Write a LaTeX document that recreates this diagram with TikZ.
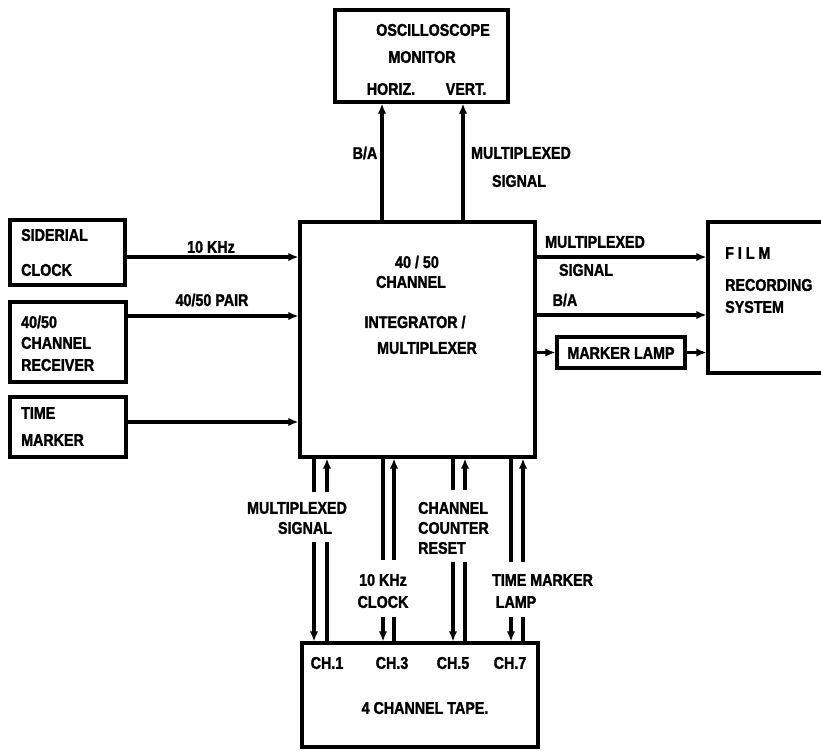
\documentclass[tikz,border=0pt]{standalone}
\usepackage{fontspec}
\setmainfont{Liberation Sans}[BoldFeatures={FakeBold=1.6,FakeStretch=0.84}]
\usetikzlibrary{arrows.meta}
\begin{document}
\begin{tikzpicture}[x=1pt,y=-1pt,
  box/.style={draw,line width=3.1pt,inner sep=0pt,rectangle},
  lbl/.style={inner sep=0pt,font=\fontsize{17}{19}\selectfont\bfseries},
  wire/.style={line width=3.1pt},
  arr/.style={line width=3.1pt,-{Latex[length=10pt,width=8.5pt]}}]
\useasboundingbox (0,0) rectangle (821,751);
% boxes
\node[box,minimum width=173pt,minimum height=92pt] (osc) at (421.5,56) {};
\node[box,minimum width=235pt,minimum height=235pt] (main) at (417.5,339.5) {};
\node[box,minimum width=115pt,minimum height=65pt] (sid) at (67.5,252.5) {};
\node[box,minimum width=116pt,minimum height=80pt] (rcv) at (68,342) {};
\node[box,minimum width=116pt,minimum height=60pt] (tm) at (68,427) {};
\node[box,minimum width=116pt,minimum height=151pt] (film) at (766,297.5) {};
\node[box,minimum width=128pt,minimum height=31pt] (lamp) at (621,352.5) {};
\node[box,minimum width=236pt,minimum height=104pt] (tape) at (420,695) {};
% box texts
\node[lbl] (o1) at (433,30) {OSCILLOSCOPE};
\node[lbl] (o2) at (422,57) {MONITOR};
\node[lbl] (o3) at (391,89) {HORIZ.};
\node[lbl] (o4) at (466,89) {VERT.};
\node[lbl,anchor=west] (s1) at (21,235) {SIDERIAL};
\node[lbl,anchor=west] (s2) at (21,270) {CLOCK};
\node[lbl,anchor=west] (r1) at (21,322) {40/50};
\node[lbl,anchor=west] (r2) at (21,343) {CHANNEL};
\node[lbl,anchor=west] (r3) at (21,365) {RECEIVER};
\node[lbl,anchor=west] (m1) at (21,413) {TIME};
\node[lbl,anchor=west] (m2) at (21,440) {MARKER};
\node[lbl] (c1) at (417,262) {40 / 50};
\node[lbl] (c2) at (411,282) {CHANNEL};
\node[lbl] (c3) at (415,322) {INTEGRATOR /};
\node[lbl] (c4) at (427,348) {MULTIPLEXER};
\node[lbl,anchor=west] (f1) at (725,253) {F I L M};
\node[lbl,anchor=west] (f2) at (725,285) {RECORDING};
\node[lbl,anchor=west] (f3) at (725,307) {SYSTEM};
\node[lbl] (ml) at (621,353) {MARKER LAMP};
\node[lbl] (t1) at (327,663) {CH.1};
\node[lbl] (t3) at (392,663) {CH.3};
\node[lbl] (t5) at (453,663) {CH.5};
\node[lbl] (t7) at (510,663) {CH.7};
\node[lbl] (t0) at (425,708) {4 CHANNEL TAPE.};
% connector labels
\node[lbl] (la1) at (365,153) {B/A};
\node[lbl] (la2) at (521,153) {MULTIPLEXED};
\node[lbl] (la3) at (519,181) {SIGNAL};
\node[lbl] (la4) at (211,247) {10 KHz};
\node[lbl] (la5) at (212,300) {40/50 PAIR};
\node[lbl] (la6) at (595,242) {MULTIPLEXED};
\node[lbl] (la7) at (586,270) {SIGNAL};
\node[lbl] (la8) at (565,300) {B/A};
\node[lbl] (lb1) at (297,508) {MULTIPLEXED};
\node[lbl] (lb2) at (305,528) {SIGNAL};
\node[lbl,anchor=west] (lb3) at (418,508) {CHANNEL};
\node[lbl,anchor=west] (lb4) at (418,528) {COUNTER};
\node[lbl,anchor=west] (lb5) at (418,548) {RESET};
\node[lbl] (lb6) at (383,580) {10 KHz};
\node[lbl] (lb7) at (383,602) {CLOCK};
\node[lbl,anchor=west] (lb8) at (492,580) {TIME MARKER};
\node[lbl] (lb9) at (516,602) {LAMP};
% top connectors
\draw[arr] (main.north -| 382,0) -- (osc.south -| 382,0);
\draw[arr] (main.north -| 463,0) -- (osc.south -| 463,0);
% left connectors
\draw[arr] (sid.east |- 0,257) -- (main.west |- 0,257);
\draw[arr] (rcv.east |- 0,316) -- (main.west |- 0,316);
\draw[arr] (tm.east |- 0,422) -- (main.west |- 0,422);
% right connectors
\draw[arr] (main.east |- 0,257) -- (film.west |- 0,257);
\draw[arr] (main.east |- 0,315) -- (film.west |- 0,315);
\draw[arr] (main.east |- lamp.west) -- (lamp.west);
\draw[arr] (lamp.east) -- (film.west |- lamp.east);
% bottom connector break points
\coordinate (d1a) at (314,492); \coordinate (d1b) at (314,542);
\coordinate (u1a) at (327,492); \coordinate (u1b) at (327,542);
\coordinate (d2a) at (383,560); \coordinate (d2b) at (383,617);
\coordinate (u2a) at (394,560); \coordinate (u2b) at (394,617);
\coordinate (d3a) at (453,490); \coordinate (d3b) at (453,562);
\coordinate (u3a) at (465,490); \coordinate (u3b) at (465,562);
\coordinate (d4a) at (511,562); \coordinate (d4b) at (511,617);
\coordinate (u4a) at (523,562); \coordinate (u4b) at (523,617);
\foreach \i in {1,2,3,4}{
  \draw[wire] (main.south -| d\i a) -- (d\i a);
  \draw[arr] (d\i b) -- (tape.north -| d\i b);
  \draw[wire] (tape.north -| u\i b) -- (u\i b);
  \draw[arr] (u\i a) -- (main.south -| u\i a);
}
\end{tikzpicture}
\end{document}
